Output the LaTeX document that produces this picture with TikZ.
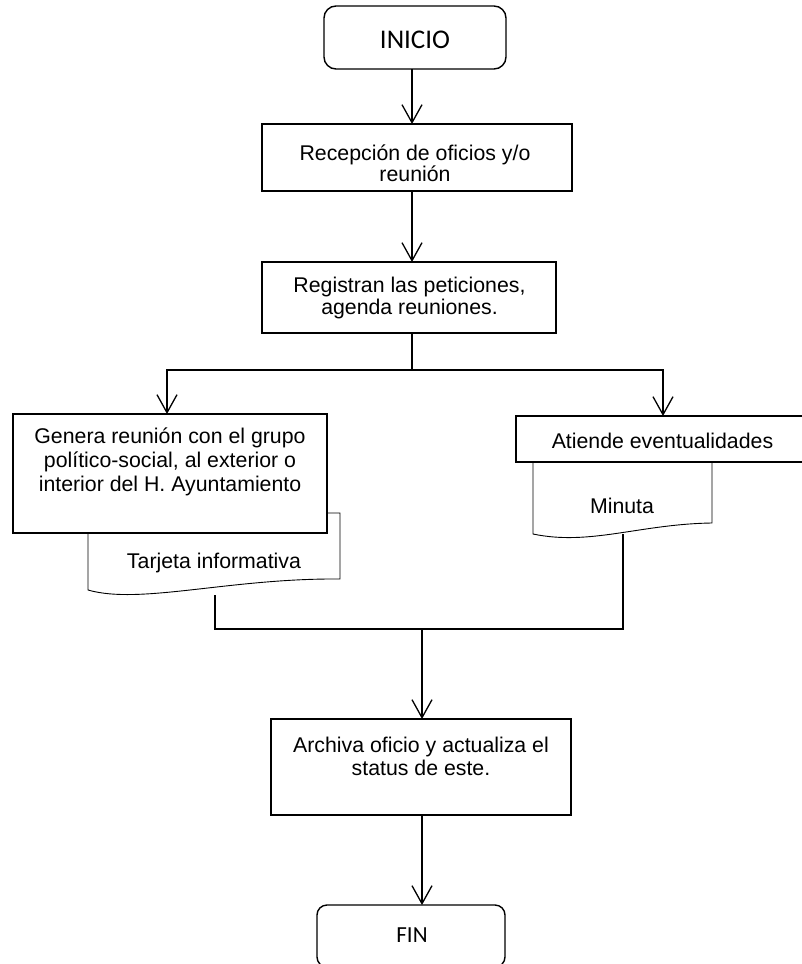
\documentclass[tikz,border=0pt]{standalone}
\usepackage{fontspec}
\setmainfont{Liberation Sans}
\newfontfamily\calibrifont{Carlito}
\usetikzlibrary{arrows.meta}

\tikzset{
  box/.style={draw, line width=1.4pt, fill=white, inner sep=0pt, outer sep=0pt},
  term/.style={box, rounded corners=12pt},
  doc/.style={draw, line width=0.9pt, fill=white},
  txt/.style={font=\fontsize{21.3}{24}\selectfont, align=center, inner sep=0pt},
  termtxt/.style={font=\calibrifont\fontsize{27}{30}\selectfont, inner sep=0pt},
  arr/.style={-{Straight Barb[length=18pt,width=20pt]}, line width=1.3pt, line join=miter},
  link/.style={line width=1.3pt, line join=miter},
}

\begin{document}
\begin{tikzpicture}[x=1pt, y=-1pt]
  \useasboundingbox (0,0) rectangle (801,964);

  % inicio and first steps
  \node[term, minimum width=182pt, minimum height=63pt] (inicio) at (415,37.5) {};
  \node[termtxt, anchor=base] (inicioT) at (415,48) {INICIO};
  \node[box, minimum width=310pt, minimum height=67pt] (recep) at (417,157.5) {};
  \node[txt, font=\fontsize{21.3}{20}\selectfont] (recepT) at (415,163) {Recepción de oficios y/o\\reunión};
  \node[box, minimum width=294pt, minimum height=71pt] (regis) at (409,297.5) {};
  \node[txt, font=\fontsize{21.3}{22}\selectfont] (regisT) at (409.5,298) {Registran las peticiones,\\agenda reuniones.};

  % documents (behind the boxes)
  \draw[doc] (88,513) -- (340,513) -- (340,579) .. controls (230,578) and (140,605) .. (88,590) -- cycle;
  \draw[doc] (533,462) -- (712,462) -- (712,523) .. controls (640,524) and (590,546) .. (533,534) -- cycle;

  % the two branches
  \node[box, minimum width=314pt, minimum height=119pt] (genera) at (170,473.5) {};
  \node[txt] (generaT) at (170,462) {Genera reunión con el grupo\\político-social, al exterior o\\interior del H. Ayuntamiento};
  \node[box, minimum width=293pt, minimum height=46pt] (atiende) at (662.5,439) {};
  \node[txt, anchor=base] (atiendeT) at (662.5,448) {Atiende eventualidades};
  \node[txt, anchor=base] (tarjT) at (214,568) {Tarjeta informativa};
  \node[txt, anchor=base] (minutaT) at (622,513) {Minuta};

  % archive and fin
  \node[box, minimum width=300pt, minimum height=96pt] (archiva) at (421,767) {};
  \node[txt, font=\fontsize{21.3}{23}\selectfont] (archivaT) at (421,756) {Archiva oficio y actualiza el\\status de este.};
  \node[term, rounded corners=10pt, minimum width=188pt, minimum height=62pt] (fin) at (411,936) {};
  \node[termtxt, font=\calibrifont\fontsize{23}{26}\selectfont, anchor=base] (finT) at (412,942) {FIN};

  % connectors
  \coordinate (split) at (412,370);
  \coordinate (splitL) at (167,370);
  \coordinate (splitR) at (663,370);
  \coordinate (merge) at (422,629);
  \coordinate (tarjE) at (215,595);
  \coordinate (minutaE) at (623,534);

  \draw[arr] (inicio.south -| split) -- (recep.north -| split);
  \draw[arr] (recep.south -| split) -- (regis.north -| split);
  \draw[link] (regis.south -| split) -- (split);
  \draw[arr] (split) -| (genera.north -| splitL);
  \draw[arr] (split) -| (atiende.north -| splitR);
  \draw[link] (tarjE) |- (merge);
  \draw[link] (minutaE) |- (merge);
  \draw[arr] (merge) -- (archiva.north -| merge);
  \draw[arr] (archiva.south -| merge) -- (fin.north -| merge);
\end{tikzpicture}
\end{document}
